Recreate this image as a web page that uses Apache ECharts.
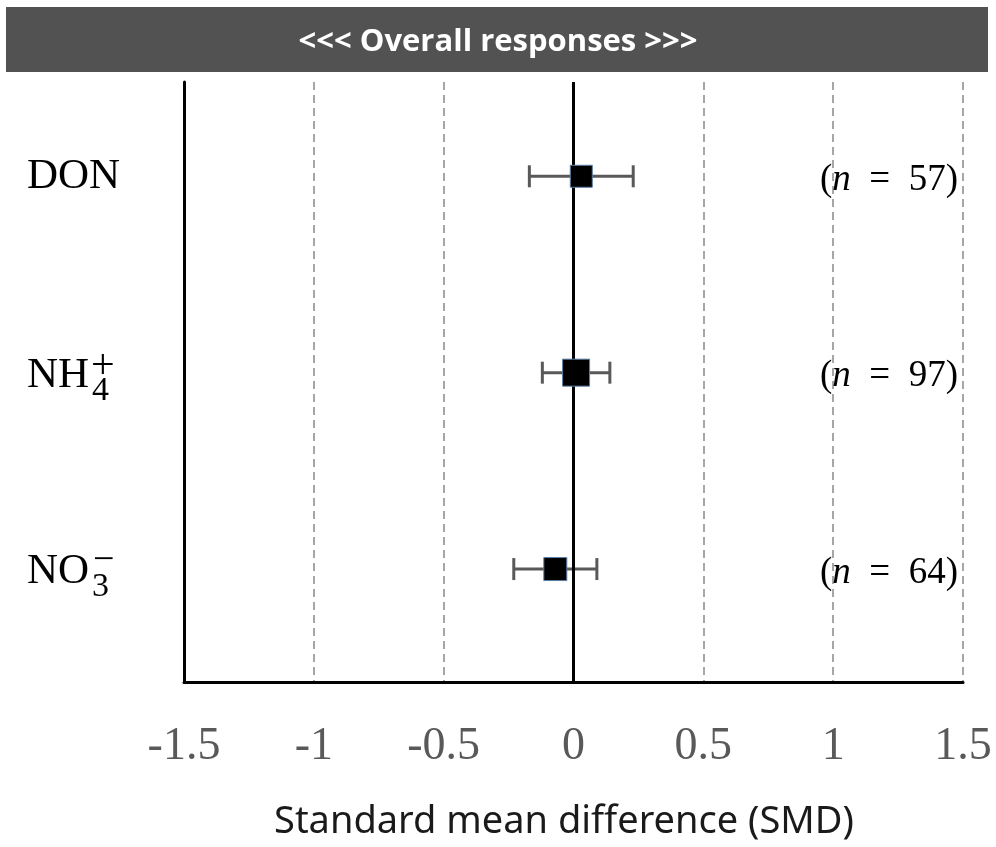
<!DOCTYPE html>
<html>
<head>
<meta charset="utf-8">
<script src="https://cdn.jsdelivr.net/npm/echarts@6/dist/echarts.min.js"></script>
<style>
  html, body { margin: 0; padding: 0; background: #fff; }
  #chart { width: 996px; height: 847px; }
</style>
</head>
<body>
<div id="chart"></div>
<script>
// ---- data ----
const labelMain = ['DON', 'NH', 'NO'];
const labelSub  = ['', '4', '3'];
const labelSup  = ['', '+', '\u2212'];
const smd    = [0.03, 0.01, -0.07];
const ciLow  = [-0.17, -0.12, -0.23];
const ciHigh = [0.23, 0.14, 0.09];
const nObs   = [57, 97, 64];
const markerSize = [22, 27, 23];
const titleText = '<<< Overall responses >>>';
const xTitle = 'Standard mean difference (SMD)';

const chart = echarts.init(document.getElementById('chart'));

const idx = labelMain.map((_, i) => i);

const option = {
  backgroundColor: '#fff',
  animation: false,
  graphic: [
    { type: 'rect', shape: { x: 6, y: 7, width: 982, height: 65 }, style: { fill: '#525252' }, z: 10 },
    { type: 'text', x: 498, y: 42, style: { text: titleText, fill: '#fff', font: 'bold 31px "Open Sans"', textAlign: 'center', textVerticalAlign: 'middle' }, z: 11 },
    { type: 'text', x: 564, y: 822, style: { text: xTitle, fill: '#1a1a1a', font: '38px "Noto Sans"', textAlign: 'center', textVerticalAlign: 'middle' }, z: 11 }
  ],
  grid: { left: 184, right: 33, top: 82, bottom: 165 },
  xAxis: {
    type: 'value', min: -1.5, max: 1.5, interval: 0.5,
    axisLine: { show: true, onZero: false, lineStyle: { color: '#000', width: 3 } },
    axisTick: { show: false },
    axisLabel: { color: '#595959', fontFamily: 'Liberation Serif', fontSize: 46, margin: 42 },
    splitLine: { show: true, lineStyle: { color: '#a6a6a6', width: 2, type: [8, 5] } }
  },
  yAxis: {
    type: 'value', inverse: true, min: -0.48, max: 2.575,
    axisLine: { show: true, onZero: false, lineStyle: { color: '#000', width: 3 } },
    axisTick: { show: false }, axisLabel: { show: false }, splitLine: { show: false }
  },
  series: [
    {
      type: 'custom', name: 'ci', z: 3,
      data: idx.map(i => [ciLow[i], ciHigh[i], i]),
      renderItem: function (params, api) {
        const lo = api.coord([api.value(0), api.value(2)]);
        const hi = api.coord([api.value(1), api.value(2)]);
        const c = 11;
        const st = { stroke: '#595959', lineWidth: 3 };
        return { type: 'group', children: [
          { type: 'line', shape: { x1: lo[0], y1: lo[1], x2: hi[0], y2: hi[1] }, style: st },
          { type: 'line', shape: { x1: lo[0], y1: lo[1] - c, x2: lo[0], y2: lo[1] + c }, style: st },
          { type: 'line', shape: { x1: hi[0], y1: hi[1] - c, x2: hi[0], y2: hi[1] + c }, style: st }
        ]};
      },
      markLine: {
        silent: true, symbol: 'none', label: { show: false },
        lineStyle: { color: '#000', width: 3, type: 'solid' },
        data: [{ xAxis: 0 }]
      }
    },
    {
      type: 'scatter', name: 'smd', z: 5,
      symbol: 'rect',
      data: idx.map(i => ({ value: [smd[i], i], symbolSize: markerSize[i] })),
      itemStyle: { color: '#000', borderColor: '#5b7fa6', borderWidth: 1, opacity: 1 }
    },
    {
      type: 'custom', name: 'catLabels', z: 6, silent: true,
      data: idx.map(i => [0, i]),
      renderItem: function (params, api) {
        const i = api.value(1);
        const y = api.coord([0, i])[1];
        const x0 = params.coordSys.x - 157;
        const mainFont = '43px "Liberation Serif"';
        const subFont = '34px "Liberation Serif"';
        const children = [
          { type: 'text', style: { text: labelMain[i], x: x0, y: y + (labelSub[i] ? 3 : 0), font: mainFont, fill: '#000', textAlign: 'left', textVerticalAlign: 'middle' } }
        ];
        if (labelSub[i]) {
          const subX = x0 + 65;
          children.push({ type: 'text', style: { text: labelSub[i], x: subX, y: y + 18, font: subFont, fill: '#000', textAlign: 'left', textVerticalAlign: 'middle' } });
          const isPlus = labelSup[i] === '+';
          children.push({ type: 'text', style: { text: labelSup[i], x: subX + (isPlus ? -1 : 1), y: y + (isPlus ? -6 : -8), font: (isPlus ? '42px' : '38px') + ' "Liberation Serif"', fill: '#000', textAlign: 'left', textVerticalAlign: 'middle' } });
        }
        return { type: 'group', children: children };
      }
    },
    {
      type: 'custom', name: 'nLabels', z: 6, silent: true,
      data: idx.map(i => [1.5, i]),
      renderItem: function (params, api) {
        const i = api.value(1);
        const p = api.coord([api.value(0), i]);
        return {
          type: 'text',
          style: {
            text: '({it|n}  =  ' + nObs[i] + ')',
            x: p[0] - 5, y: p[1] + 4,
            textAlign: 'right', textVerticalAlign: 'middle',
            font: '37px "Liberation Serif"', fill: '#000',
            rich: { it: { fontStyle: 'italic', fontFamily: 'Liberation Serif', fontSize: 37, fill: '#000' } }
          }
        };
      }
    }
  ]
};
chart.setOption(option);
</script>
</body>
</html>
